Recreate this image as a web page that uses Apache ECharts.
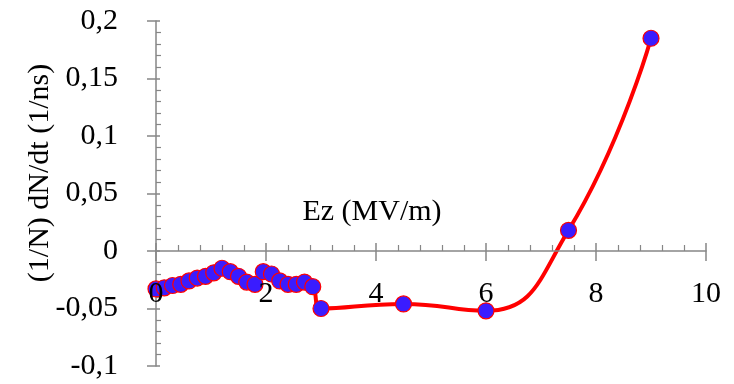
<!DOCTYPE html>
<html><head><meta charset="utf-8">
<script src="https://cdn.jsdelivr.net/npm/echarts@6/dist/echarts.min.js"></script>
<style>html,body{margin:0;padding:0;background:#fff}#c{width:734px;height:384px}</style>
</head><body><div id="c"></div>
<script>
// Data
const ezValues = [0, 0.15, 0.3, 0.45, 0.6, 0.75, 0.9, 1.05, 1.2, 1.35, 1.5, 1.65, 1.8, 1.95, 2.1, 2.25, 2.4, 2.55, 2.7, 2.85, 3.0, 4.5, 6.0, 7.5, 9.0];
const rateValues = [-0.033, -0.032, -0.030, -0.029, -0.026, -0.0235, -0.022, -0.019, -0.015, -0.018, -0.022, -0.027, -0.029, -0.018, -0.020, -0.026, -0.029, -0.029, -0.027, -0.031, -0.050, -0.046, -0.052, 0.018, 0.185];
const xTickLabels = ['0', '2', '4', '6', '8', '10'];
const yTickLabels = ['-0,1', '-0,05', '0', '0,05', '0,1', '0,15', '0,2'];
const xTitle = 'Ez (MV/m)';
const yTitle = '(1/N) dN/dt (1/ns)';

const FONT = '"Liberation Serif", "Times New Roman", serif';
const AXIS_COLOR = '#868686';
const points = ezValues.map((x, i) => [x, rateValues[i]]);

const GRID = {left: 156, right: 28, top: 21, bottom: 18};
const Y_MIN = -0.1, Y_MAX = 0.2;
const plotHeight = 384 - GRID.top - GRID.bottom;
// shift of the labelled x axis from the grid bottom up to the y = 0 line
const zeroShift = -plotHeight * (0 - Y_MIN) / (Y_MAX - Y_MIN);

const chart = echarts.init(document.getElementById('c'), null, {renderer: 'canvas'});
const xBase = {type: 'value', min: 0, max: 10, interval: 2, gridIndex: 0, splitLine: {show: false}};
const yBase = {type: 'value', min: Y_MIN, max: Y_MAX, interval: 0.05, gridIndex: 0, splitLine: {show: false}};
chart.setOption({
  animation: false,
  backgroundColor: '#ffffff',
  grid: Object.assign({containLabel: false, outerBoundsMode: 'none'}, GRID),
  xAxis: [
    Object.assign({}, xBase, {
      z: 3,
      position: 'bottom',
      offset: zeroShift,
      axisLine: {show: true, onZero: false, lineStyle: {color: AXIS_COLOR, width: 1.5}},
      axisTick: {show: true, inside: false, length: 10, lineStyle: {color: AXIS_COLOR, width: 1.5}},
      minorTick: {show: false},
      axisLabel: {show: true, margin: 28, color: '#000', fontFamily: FONT, fontSize: 30,
        formatter: (v, i) => xTickLabels[i]}
    }),
    Object.assign({}, xBase, {
      position: 'bottom',
      axisLine: {show: false, onZero: true, onZeroAxisIndex: 0},
      axisTick: {show: true, inside: true, length: 8, lineStyle: {color: AXIS_COLOR, width: 1.5}},
      minorTick: {show: true, splitNumber: 5, length: 6, lineStyle: {color: AXIS_COLOR, width: 1.2}},
      axisLabel: {show: false}
    })
  ],
  yAxis: [
    Object.assign({}, yBase, {
      position: 'left',
      axisLine: {show: true, onZero: false, lineStyle: {color: AXIS_COLOR, width: 1.5}},
      axisTick: {show: true, inside: false, length: 9, lineStyle: {color: AXIS_COLOR, width: 1.5}},
      minorTick: {show: false},
      axisLabel: {show: true, margin: 38, color: '#000', fontFamily: FONT, fontSize: 30,
        formatter: (v, i) => yTickLabels[i]}
    }),
    Object.assign({}, yBase, {
      position: 'left',
      axisLine: {show: false, onZero: false},
      axisTick: {show: true, inside: true, length: 4, lineStyle: {color: AXIS_COLOR, width: 1.5}},
      minorTick: {show: true, splitNumber: 5, length: 5, lineStyle: {color: AXIS_COLOR, width: 1.2}},
      axisLabel: {show: false}
    })
  ],
  graphic: [
    {type: 'text', x: 372, y: 212, z: 10,
      style: {text: xTitle, font: '30px ' + FONT, fill: '#000', align: 'center', verticalAlign: 'middle'}},
    {type: 'text', x: 40, y: 173, rotation: Math.PI / 2, z: 10,
      style: {text: yTitle, font: '30px ' + FONT, fill: '#000', align: 'center', verticalAlign: 'middle'}}
  ],
  series: [{
    type: 'line',
    xAxisIndex: 0,
    yAxisIndex: 0,
    data: points,
    smooth: 0.5,
    symbol: 'circle',
    symbolSize: 16,
    lineStyle: {color: '#ff0000', width: 4},
    itemStyle: {color: '#3a1cff', borderColor: '#ff0000', borderWidth: 1.2},
    z: 2
  }]
});
</script>
</body></html>
